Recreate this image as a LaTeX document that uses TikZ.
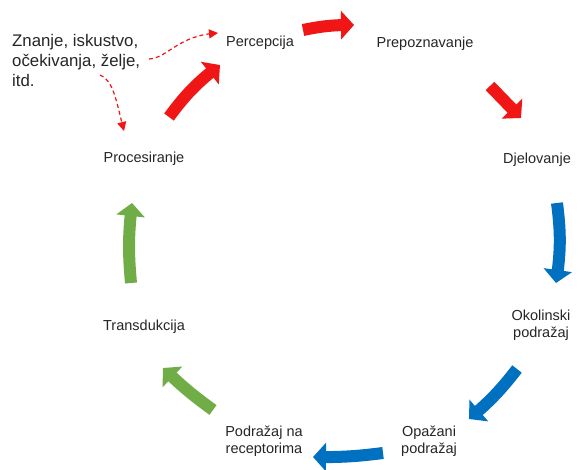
\documentclass[tikz,border=0pt]{standalone}
\usepackage{fontspec}
\setmainfont{Liberation Sans}
\usetikzlibrary{arrows.meta,bending}
\definecolor{cred}{RGB}{240,22,22}
\definecolor{cblue}{RGB}{0,112,192}
\definecolor{cgreen}{RGB}{112,173,71}
\tikzset{
  lab/.style={font=\fontsize{14.5}{16.5}\selectfont, text=black!85, align=center, inner sep=1pt},
  big/.style={-{Triangle[width=28pt,length=13pt]}, line width=12pt},
  dashedarrow/.style={cred, dash pattern=on 4pt off 3pt, line width=1.2pt, -{Triangle[width=9pt,length=9pt]}}
}
\begin{document}
\begin{tikzpicture}[x=1pt,y=-1pt]
\useasboundingbox[fill=white] (0,0) rectangle (580,470);
\node[lab] (perc) at (260,43) {Percepcija};
\node[lab] (prep) at (425,44) {Prepoznavanje};
\node[lab] (djel) at (537,160) {Djelovanje};
\node[lab] (okol) at (541,325) {Okolinski\\podražaj};
\node[lab] (opaz) at (429,441) {Opažani\\podražaj};
\node[lab] (podr) at (264,441) {Podražaj na\\receptorima};
\node[lab] (trans) at (144,327) {Transdukcija};
\node[lab] (proc) at (144,159) {Procesiranje};
\node[font=\fontsize{16.8}{20}\selectfont, text=black!85, align=left, anchor=west, inner sep=0pt] (zn) at (12,60) {Znanje, iskustvo,\\očekivanja, želje,\\itd.};

\coordinate (a1) at (303,30); \coordinate (b1) at (354,25);
\coordinate (a2) at (490,86); \coordinate (b2) at (521,118);
\coordinate (a3) at (557,203); \coordinate (b3) at (556,283);
\coordinate (a4) at (517,369); \coordinate (b4) at (469,419);
\coordinate (a5) at (383,453); \coordinate (b5) at (313,457);
\coordinate (a6) at (213,410); \coordinate (b6) at (163,368);
\coordinate (a7) at (131,283); \coordinate (b7) at (132,203);
\coordinate (a8) at (169,117); \coordinate (b8) at (220,65);

\draw[big,cred] (a1) to[bend left=6] (b1);
\draw[big,cred] (a2) -- (b2);
\draw[big,cblue] (a3) to[bend left=8] (b3);
\draw[big,cblue] (a4) to[bend left=6] (b4);
\draw[big,cblue] (a5) to[bend left=4] (b5);
\draw[big,cgreen] (a6) to[bend left=4] (b6);
\draw[big,cgreen] (a7) to[bend left=6] (b7);
\draw[big,cred] (a8) to[bend left=8] (b8);

\coordinate (d1) at (149,59); \coordinate (e1) at (218,33);
\coordinate (d2) at (100,75); \coordinate (e2) at (124,131);
\draw[dashedarrow] (d1) .. controls (168,58) and (178,35) .. (e1);
\draw[dashedarrow] (d2) .. controls (114,80) and (117,105) .. (e2);
\end{tikzpicture}
\end{document}
